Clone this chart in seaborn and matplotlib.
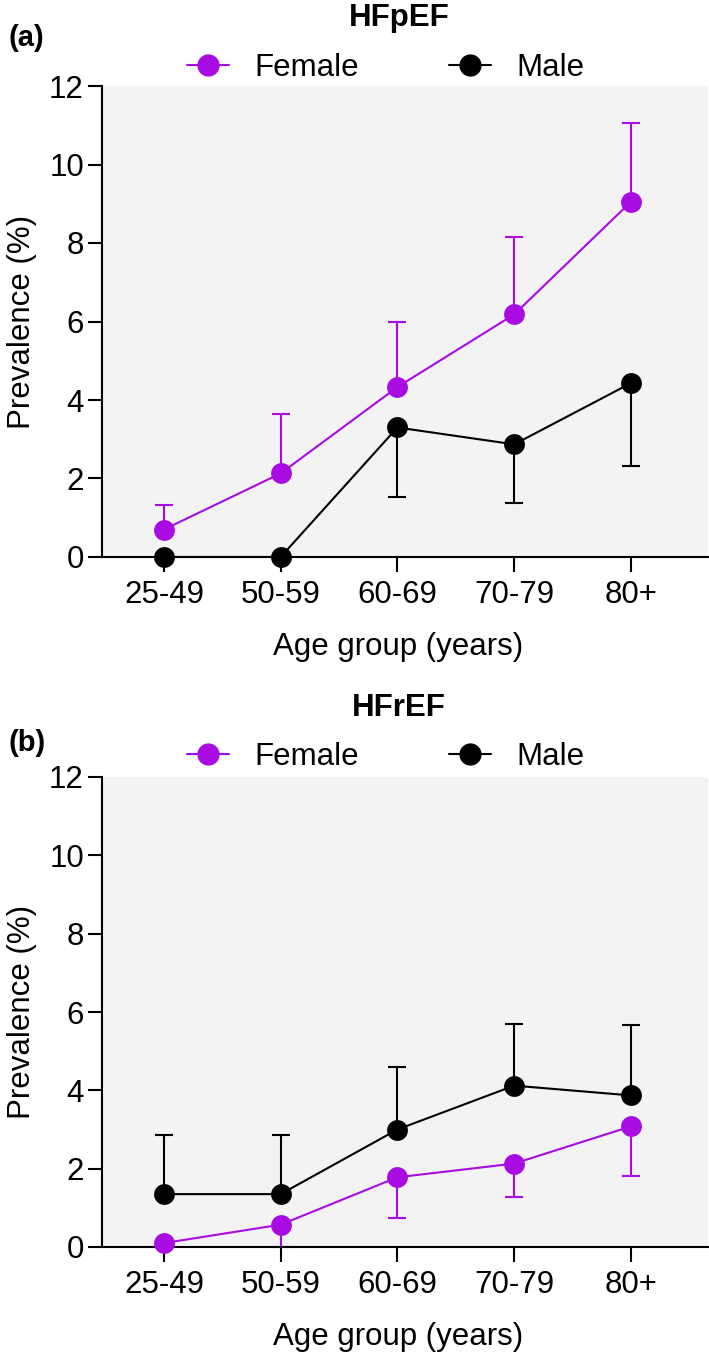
import matplotlib
matplotlib.use("Agg")
import matplotlib.pyplot as plt
import seaborn as sns
import pandas as pd
import numpy as np

# ---------------- data ----------------
age_groups = ["25-49", "50-59", "60-69", "70-79", "80+"]

hfpef_female = [0.70, 2.13, 4.33, 6.18, 9.05]
hfpef_female_upper = [1.33, 3.65, 5.98, 8.15, 11.05]
hfpef_male = [0.0, 0.0, 3.30, 2.87, 4.43]
hfpef_male_lower = [0.0, 0.0, 1.53, 1.37, 2.33]

hfref_female = [0.10, 0.57, 1.78, 2.13, 3.08]
hfref_female_lower = [0.0, 0.0, 0.73, 1.28, 1.82]
hfref_male = [1.35, 1.35, 3.00, 4.12, 3.87]
hfref_male_upper = [2.85, 2.85, 4.60, 5.70, 5.68]

panel_titles = ["HFpEF", "HFrEF"]
panel_letters = ["(a)", "(b)"]
y_ticks = [0, 2, 4, 6, 8, 10, 12]

FEMALE_C = "#A90BE3"
MALE_C = "#000000"
BG = "#F3F3F3"

sns.set_theme(style="ticks")
plt.rcParams["font.family"] = ["Liberation Sans", "DejaVu Sans"]
plt.rcParams["text.color"] = "black"
plt.rcParams["axes.labelcolor"] = "black"

W, H = 709, 1353
fig = plt.figure(figsize=(W / 100, H / 100), dpi=100)

def frac_rect(l, t, r, b):
    return [l / W, 1 - b / H, (r - l) / W, (b - t) / H]

axes_rects = [frac_rect(102, 86, 708, 557), frac_rect(102, 777, 708, 1247)]
title_y = [18, 708]
letter_y = [38, 743]
legend_y = [68, 757]

panels = [
    dict(f=hfpef_female, f_lo=hfpef_female, f_hi=hfpef_female_upper,
         m=hfpef_male, m_lo=hfpef_male_lower, m_hi=hfpef_male),
    dict(f=hfref_female, f_lo=hfref_female_lower, f_hi=hfref_female,
         m=hfref_male, m_lo=hfref_male, m_hi=hfref_male_upper),
]

x_pos = np.arange(len(age_groups))
LW = 1.5
MS = 15
FS = 22.5

for i, (rect, p) in enumerate(zip(axes_rects, panels)):
    ax = fig.add_axes(rect)
    ax.set_facecolor(BG)

    df = pd.DataFrame({
        "Age group": age_groups * 2,
        "Prevalence": list(p["f"]) + list(p["m"]),
        "Sex": ["Female"] * 5 + ["Male"] * 5,
    })

    # one-sided error bars
    for key, col in (("f", FEMALE_C), ("m", MALE_C)):
        vals = np.array(p[key])
        lo = vals - np.array(p[key + "_lo"])
        hi = np.array(p[key + "_hi"]) - vals
        ax.errorbar(x_pos, vals, yerr=[lo, hi], fmt="none", ecolor=col,
                    elinewidth=LW, capsize=6.5, capthick=LW, zorder=2, clip_on=False)

    sns.lineplot(data=df, x="Age group", y="Prevalence", hue="Sex",
                 palette={"Female": FEMALE_C, "Male": MALE_C},
                 hue_order=["Female", "Male"],
                 marker="o", markersize=MS, markeredgewidth=0, linewidth=LW,
                 ax=ax, zorder=3, legend=False)
    for ln in ax.lines:
        ln.set_clip_on(False)

    ax.set_xlim(-0.53, 4.66)
    ax.set_ylim(0, 12)
    ax.set_yticks(y_ticks)
    ax.set_xticks(x_pos)
    ax.set_xticklabels(age_groups)
    ax.tick_params(axis="both", labelsize=FS, width=1.5, colors="black")
    ax.tick_params(axis="y", length=10, pad=3)
    ax.tick_params(axis="x", length=10.5, pad=6)
    for s in ("top", "right"):
        ax.spines[s].set_visible(False)
    for s in ("left", "bottom"):
        ax.spines[s].set_linewidth(1.5)
        ax.spines[s].set_color("black")

    ax.set_xlabel("Age group (years)", fontsize=FS, labelpad=16)
    ax.xaxis.label.set_x(0.488)
    ax.set_ylabel("Prevalence (%)", fontsize=FS, labelpad=9)

    ax_h = rect[3] * H
    handles = [
        plt.Line2D([], [], color=FEMALE_C, marker="o", markersize=MS, linewidth=LW),
        plt.Line2D([], [], color=MALE_C, marker="o", markersize=MS, linewidth=LW),
    ]
    top_px = (1 - rect[1] - rect[3]) * H
    ax.legend(handles, ["Female", "Male"], ncol=2, frameon=False,
              loc="center", bbox_to_anchor=(0.468, 1 + (top_px - legend_y[i]) / ax_h),
              fontsize=FS, handlelength=1.35, columnspacing=2.9,
              handletextpad=0.8, borderpad=0)

    fig.text(399 / W, 1 - title_y[i] / H, panel_titles[i], fontsize=22.5,
             fontweight="bold", ha="center", va="center")
    fig.text(8 / W, 1 - letter_y[i] / H, panel_letters[i], fontsize=21,
             fontweight="bold", ha="left", va="center")

fig.savefig("out.png", dpi=100)
